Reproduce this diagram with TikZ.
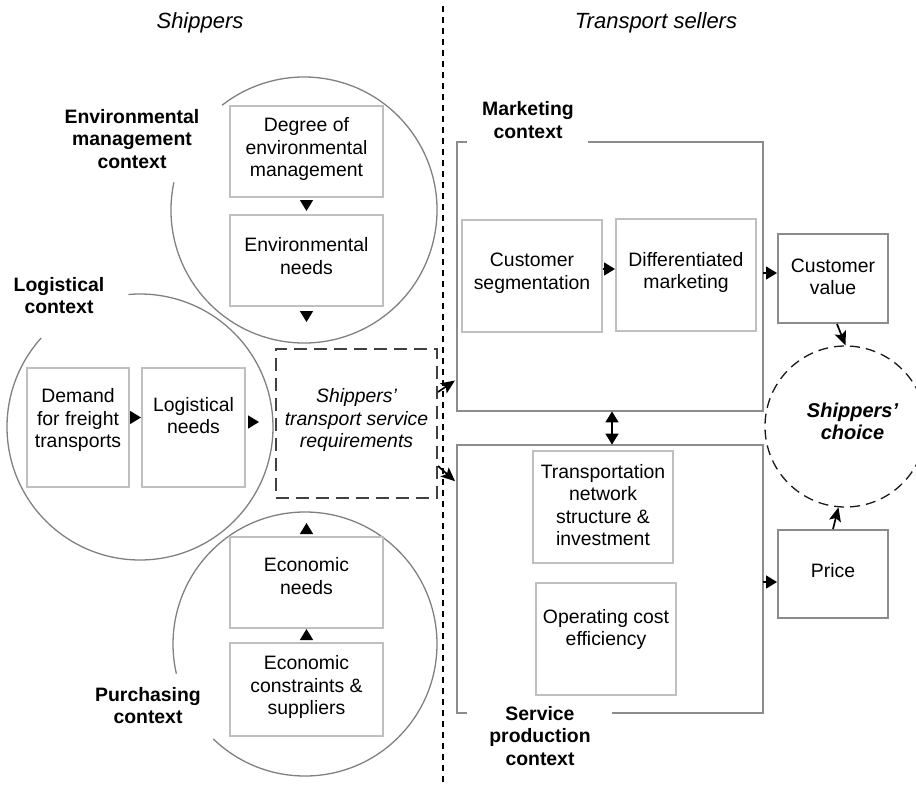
\documentclass[tikz,border=0pt]{standalone}
\usepackage{fontspec}
\setmainfont{Liberation Sans}
\usetikzlibrary{arrows.meta,calc}
\definecolor{innerc}{HTML}{BFBFBF}
\definecolor{outerc}{HTML}{8C8C8C}
\definecolor{circc}{HTML}{808080}
\definecolor{reqc}{HTML}{404040}
\begin{document}
\begin{tikzpicture}[x=0.5pt,y=-0.5pt,
  box/.style={draw=innerc,line width=1pt,inner sep=0pt,rectangle},
  obox/.style={draw=outerc,line width=1pt,inner sep=0pt,rectangle},
  reqbox/.style={draw=reqc,line width=1pt,inner sep=0pt,rectangle,dash pattern=on 6.5pt off 3.5pt},
  hidden/.style={inner sep=0pt,rectangle},
  outline/.style={draw=outerc,line width=1pt},
  circ/.style={draw=circc,line width=0.65pt},
  txt/.style={font=\fontsize{9.7}{11.25}\selectfont,align=center,inner sep=0pt},
  lbl/.style={font=\bfseries\fontsize{9.7}{11.1}\selectfont,align=center,inner sep=0pt},
  ttl/.style={font=\itshape\fontsize{11}{13}\selectfont,inner sep=0pt},
  tri/.style={-{Triangle[length=5.5pt,width=6.5pt]},line width=0.75pt},
  dtri/.style={{Triangle[length=5.5pt,width=6.5pt]}-{Triangle[length=5.5pt,width=6.5pt]},line width=0.8pt},
  arr/.style={-{Stealth[length=7pt,width=6pt,inset=1.5pt]},line width=0.85pt}]
\useasboundingbox (0,0) rectangle (916,787);
\clip (0,0) rectangle (916,787);

% divider
\coordinate (divtop) at (443,6);
\coordinate (divbot) at (443,787);
\draw[line width=0.75pt,dash pattern=on 3pt off 2.5pt] (divtop) -- (divbot);

% titles
\node[ttl] (titleL) at (200,23) {Shippers};
\node[ttl] (titleR) at (656,23) {Transport sellers};

% context circles
\coordinate (envc) at (304,210);
\coordinate (logc) at (140,427);
\coordinate (purc) at (305,644);
\draw[circ] ($(envc)+(168:66.5pt)$) arc[start angle=168,end angle=488,radius=66.5pt];
\draw[circ] ($(logc)+(138:66.5pt)$) arc[start angle=138,end angle=455,radius=66.5pt];
\draw[circ] ($(purc)+(226:66pt)$) arc[start angle=226,end angle=553,radius=66pt];

% context labels
\node[lbl] (envlbl) at (132,139) {Environmental\\management\\context};
\node[lbl] (loglbl) at (59,295.5) {Logistical\\context};
\node[lbl] (purlbl) at (148,705.5) {Purchasing\\context};
\node[lbl] (mktlbl) at (528,120) {Marketing\\context};
\node[lbl] (svclbl) at (540,736) {Service\\production\\context};

% shipper boxes
\node[box,minimum width=76.5pt,minimum height=45.5pt] (degree) at (306.5,151.5) {};
\node[box,minimum width=76.5pt,minimum height=45.5pt] (envneeds) at (306.5,260.5) {};
\node[box,minimum width=51pt,minimum height=59.5pt] (demand) at (78,427.5) {};
\node[box,minimum width=51.5pt,minimum height=59.5pt] (logneeds) at (193.5,427.5) {};
\node[reqbox,minimum width=80.5pt,minimum height=74.5pt] (req) at (356.5,423.5) {};
\node[box,minimum width=76.5pt,minimum height=45.5pt] (econneeds) at (306.5,582.5) {};
\node[box,minimum width=76.5pt,minimum height=46.5pt] (econcons) at (306.5,689.5) {};

\node[txt] (degreeT) at (306.5,149) {Degree of\\environmental\\management};
\node[txt] (envneedsT) at (306.5,256) {Environmental\\needs};
\node[txt] (demandT) at (78,420) {Demand\\for freight\\transports};
\node[txt] (logneedsT) at (193.5,415.5) {Logistical\\needs};
\node[txt,font=\itshape\fontsize{9.7}{11.25}\selectfont] (reqT) at (356.5,420) {Shippers’\\transport service\\requirements};
\node[txt] (econneedsT) at (306.5,576) {Economic\\needs};
\node[txt] (econconsT) at (306.5,687) {Economic\\constraints \&\\suppliers};

% seller side
\node[hidden,minimum width=153pt,minimum height=134.5pt] (mkt) at (610,276.5) {};
\node[hidden,minimum width=153pt,minimum height=134pt] (svc) at (610,579) {};
\draw[outline] ([xshift=5pt]mkt.north west) -- (mkt.north west) -- (mkt.south west) -- (mkt.south east) -- (mkt.north east) -- ([xshift=-87.5pt]mkt.north east);
\draw[outline] ([xshift=5pt]svc.south west) -- (svc.south west) -- (svc.north west) -- (svc.north east) -- (svc.south east) -- ([xshift=-75.5pt]svc.south east);

\node[box,minimum width=70pt,minimum height=56pt] (custseg) at (532,276) {};
\node[box,minimum width=70pt,minimum height=56pt] (diffmkt) at (686,275) {};
\node[box,minimum width=70pt,minimum height=56pt] (transp) at (603,507) {};
\node[box,minimum width=70pt,minimum height=56pt] (opcost) at (606,639) {};
\node[obox,minimum width=55pt,minimum height=44.5pt] (custval) at (833,278.5) {};
\node[obox,minimum width=55pt,minimum height=44pt] (price) at (833,574) {};
\node[circle,draw=black!90,line width=0.65pt,dash pattern=on 5pt off 3pt,minimum size=80.5pt,inner sep=0pt] (choice) at (845.5,426.5) {};

\node[txt] (custsegT) at (532,273) {Customer\\segmentation};
\node[txt] (diffmktT) at (686,272.5) {Differentiated\\marketing};
\node[txt] (transpT) at (603,505) {Transportation\\network\\structure \&\\investment};
\node[txt] (opcostT) at (606,629.5) {Operating cost\\efficiency};
\node[txt] (custvalT) at (833,277) {Customer\\value};
\node[txt] (priceT) at (833,571) {Price};
\node[txt,font=\bfseries\itshape\fontsize{10}{11}\selectfont] (choiceT) at (852.5,421) {Shippers’\\choice};

% connectors (shippers)
\draw[tri,shorten <=2.5pt,shorten >=1.5pt] (degree.south) -- (envneeds.north);
\coordinate (envout) at (306.5,322);
\draw[tri,shorten <=2pt] (envneeds.south) -- (envout);
\draw[tri] ([yshift=5pt]demand.east) -- ([yshift=5pt]demand.east -| logneeds.west);
\draw[tri,shorten <=1pt,shorten >=8pt] ([yshift=2.75pt]logneeds.east) -- ([yshift=2.75pt]logneeds.east -| req.west);
\draw[tri,shorten <=2pt] (econcons.north) -- (econneeds.south);
\coordinate (econout) at (306.5,523);
\draw[tri,shorten <=1.5pt] (econneeds.north) -- (econout);

% requirements to sellers
\draw[arr,shorten >=1pt] ([yshift=15.75pt]req.east) -- ([yshift=16pt]mkt.south west);
\draw[arr,shorten >=1pt] ([yshift=-21.25pt]req.east) -- ([yshift=-19pt]svc.north west);

% connectors (sellers)
\draw[tri] ([yshift=3.5pt]custseg.east) -- ([yshift=3.5pt]custseg.east -| diffmkt.west);
\draw[tri] ([yshift=1.75pt]mkt.east) -- ([yshift=1.75pt]mkt.east -| custval.west);
\draw[tri] ([yshift=-1.5pt]svc.east) -- ([yshift=-1.5pt]svc.east -| price.west);
\draw[dtri] ([xshift=1pt]mkt.south) -- ([xshift=1pt]svc.north);
\draw[arr] ([xshift=2pt]custval.south) -- (choice.north);
\draw[arr] (price.north) -- (choice.265);
\end{tikzpicture}
\end{document}
